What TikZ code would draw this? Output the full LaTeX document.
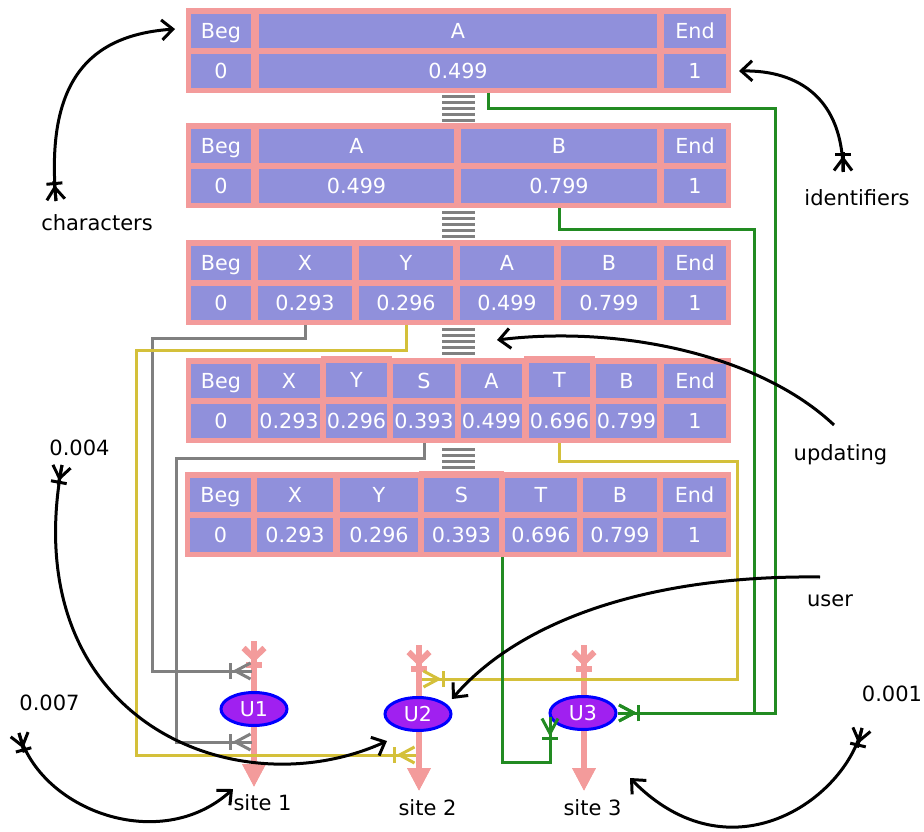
\documentclass[tikz,border=0pt]{standalone}
\usepackage{fontspec}
\setmainfont{DejaVu Sans}
\usetikzlibrary{arrows.meta,shapes.geometric,calc}
\definecolor{pinkc}{RGB}{243,155,155}
\definecolor{cellc}{RGB}{144,144,219}
\definecolor{ylw}{RGB}{212,192,58}
\definecolor{grn}{RGB}{34,139,34}
\definecolor{gry}{RGB}{128,128,128}
\definecolor{upurple}{RGB}{160,32,240}
\newcommand\tcol[7]{%
  \node[colbox, minimum width={#3-#2+10}, minimum height={85-(#7)}] (#1) at ({(#2+#3)/2},{#4+42.5+(#7)/2}) {};
  \node[cellbox, minimum width={#3-#2}] (#1a) at ({(#2+#3)/2},{#4+23+(#7)/2}) {#5};
  \node[cellbox, minimum width={#3-#2}] (#1b) at ({(#2+#3)/2},{#4+63}) {#6};
}
\tikzset{
  crow/.tip={Bar[width=16pt] Straight Barb[reversed,length=15pt,width=16pt]},
  crowb/.tip={Bar[width=16pt] Straight Barb[reversed,length=12pt,width=18pt]},
  crowp/.tip={Bar[width=16pt] Straight Barb[reversed,length=10pt,width=21pt,sep=4pt]},
  headb/.tip={Straight Barb[length=11pt,width=20pt]},
  pinktri/.tip={Triangle[length=23pt,width=22pt]},
}
\begin{document}
\begin{tikzpicture}[x=1pt,y=-1pt,
  colbox/.style={rectangle, fill=pinkc, inner sep=0pt, outer sep=0pt},
  cellbox/.style={rectangle, fill=cellc, minimum height=34pt, inner sep=0pt, outer sep=0pt,
    text=white, font=\fontsize{20.7}{24}\selectfont, text height=15.1pt, text depth=0pt},
  stripes/.style={draw=gry, line width=33pt, dash pattern=on 3pt off 3pt},
  sitearrow/.style={draw=pinkc, line width=6pt, {crowp}-{pinktri}, postaction={draw, -{pinktri}}},
  unode/.style={ellipse, fill=upurple, draw=blue, line width=3pt, minimum width=66pt,
    minimum height=33pt, inner sep=0pt, text=white, font=\fontsize{20.5}{24}\selectfont},
  conn/.style={line width=3pt, -{crow}, postaction={draw, -}},
  gconn/.style={conn, draw=gry},
  yconn/.style={conn, draw=ylw},
  gnconn/.style={conn, draw=grn},
  bcurve/.style={draw=black, line width=3pt},
  tailb/.style={draw=black, line width=3pt, {crowb}-, postaction={draw, -}},
  lbl/.style={font=\fontsize{21}{25}\selectfont, inner sep=0pt, anchor=base},
]
\useasboundingbox (0,0) rectangle (924,832);

% table 1
\tcol{t1beg}{191}{251}{8}{Beg}{0}{0}
\tcol{t1A}{259}{657}{8}{A}{0.499}{0}
\tcol{t1end}{664}{726}{8}{End}{1}{0}
% table 2
\tcol{t2beg}{191}{251}{123}{Beg}{0}{0}
\tcol{t2A}{259}{454}{123}{A}{0.499}{0}
\tcol{t2B}{461}{657}{123}{B}{0.799}{0}
\tcol{t2end}{664}{726}{123}{End}{1}{0}
% table 3
\tcol{t3beg}{191}{251}{240}{Beg}{0}{0}
\tcol{t3X}{258}{352}{240}{X}{0.293}{0}
\tcol{t3Y}{359}{453}{240}{Y}{0.296}{0}
\tcol{t3A}{460}{554}{240}{A}{0.499}{0}
\tcol{t3B}{561}{657}{240}{B}{0.799}{0}
\tcol{t3end}{664}{726}{240}{End}{1}{0}
% table 4
\tcol{t4beg}{191}{251}{358}{Beg}{0}{0}
\tcol{t4X}{258}{320}{358}{X}{0.293}{0}
\tcol{t4Y}{326}{387}{358}{Y}{0.296}{-2}
\tcol{t4S}{393}{455}{358}{S}{0.393}{0}
\tcol{t4A}{461}{522}{358}{A}{0.499}{0}
\tcol{t4T}{529}{590}{358}{T}{0.696}{-2}
\tcol{t4B}{596}{657}{358}{B}{0.799}{0}
\tcol{t4end}{664}{726}{358}{End}{1}{0}
% table 5
\tcol{t5beg}{190}{251}{472}{Beg}{0}{0}
\tcol{t5X}{257}{333}{472}{X}{0.293}{0}
\tcol{t5Y}{340}{418}{472}{Y}{0.296}{0}
\tcol{t5S}{424}{499}{472}{S}{0.393}{-1}
\tcol{t5T}{505}{577}{472}{T}{0.696}{0}
\tcol{t5B}{583}{657}{472}{B}{0.799}{0}
\tcol{t5end}{663}{726}{472}{End}{1}{0}

% stripes between tables
\coordinate (sa1) at (458,95);  \coordinate (sb1) at (458,122);
\coordinate (sa2) at (458,211); \coordinate (sb2) at (458,238);
\coordinate (sa3) at (458,328); \coordinate (sb3) at (458,355);
\coordinate (sa4) at (458,448); \coordinate (sb4) at (458,469);
\draw[stripes] (sa1) -- (sb1);
\draw[stripes] (sa2) -- (sb2);
\draw[stripes] (sa3) -- (sb3);
\draw[stripes] (sa4) -- (sb4);

% sites
\coordinate (s1t) at (254,641); \coordinate (s1b) at (254,787);
\coordinate (s2t) at (419,645); \coordinate (s2b) at (419,791);
\coordinate (s3t) at (584,645); \coordinate (s3b) at (584,791);
\draw[sitearrow] (s1t) -- (s1b);
\draw[sitearrow] (s2t) -- (s2b);
\draw[sitearrow] (s3t) -- (s3b);

\node[unode] (U1) at (254,709) {U1};
\node[unode] (U2) at (418,714) {U2};
\node[unode] (U3) at (583,713) {U3};

% connectors
\coordinate (g1e) at (252,671);
\coordinate (g2e) at (252,742);
\coordinate (y1e) at (416,755);
\coordinate (y2e) at (422,679);
\draw[gconn] (t3X.south) |- (152,338) |- (g1e);
\draw[gconn] (t4S.south) |- (176,458) |- (g2e);
\draw[yconn] (t3Y.south) |- (136,350) |- (y1e);
\draw[yconn] (t4T.south) |- (737,461) |- (y2e);
\draw[gnconn] ([xshift=30pt]t1A.south) |- (775,109) |- (U3.east);
\draw[gnconn] (t2B.south) |- (754,229) |- (U3.east);
\draw[gnconn] ([xshift=-39pt]t5T.south) |- ([xshift=1.5pt,yshift=-49pt]U3.west) -- ([xshift=1.5pt,yshift=-4pt]U3.west);

% labels
\node[lbl] (lchar) at (97,230) {characters};
\node[lbl] (lident) at (857,205) {identifiers};
\node[lbl] (lupd) at (840.5,460) {updating};
\node[lbl] (luser) at (830,606) {user};
\node[lbl] (l004) at (79.5,455) {0.004};
\node[lbl] (l007) at (49.5,710) {0.007};
\node[lbl] (l001) at (892,701) {0.001};
\node[lbl] (ls1) at (262.5,810) {site 1};
\node[lbl] (ls2) at (427.5,815) {site 2};
\node[lbl] (ls3) at (592.5,815) {site 3};

% black curves
\coordinate (c1s) at (56,201);  \coordinate (c1e) at (175,29);
\coordinate (c2s) at (843,172); \coordinate (c2e) at (739,71);
\coordinate (c3s) at (834,425); \coordinate (c3e) at (497,340);
\coordinate (c4s) at (820,577); \coordinate (c4e) at (452,699);
\coordinate (c5s) at (62,465);  \coordinate (c5e) at (387,741);
\coordinate (c6s) at (19,733);  \coordinate (c6e) at (233,789);
\coordinate (c7s) at (862,728); \coordinate (c7e) at (630,778);
\draw[bcurve, -{headb}] (c1s) .. controls (45,80) and (90,35) .. (c1e);
\draw[tailb] (c1s) -- ($(c1s)!20pt!(45,80)$);
\draw[bcurve, -{headb}] (c2s) .. controls (843,100) and (800,70) .. (c2e);
\draw[tailb] (c2s) -- ($(c2s)!20pt!(843,100)$);
\draw[bcurve, -{headb}] (c3s) .. controls (760,355) and (620,325) .. (c3e);
\draw[bcurve, -{headb}] (c4s) .. controls (650,575) and (520,620) .. (c4e);
\draw[bcurve, -{headb}] (c5s) .. controls (15,720) and (235,810) .. (c5e);
\draw[tailb] (c5s) -- ($(c5s)!20pt!(15,720)$);
\draw[bcurve, -{headb}] (c6s) .. controls (40,810) and (160,855) .. (c6e);
\draw[tailb] (c6s) -- ($(c6s)!20pt!(40,810)$);
\draw[bcurve, -{headb}] (c7s) .. controls (845,800) and (730,880) .. (c7e);
\draw[tailb] (c7s) -- ($(c7s)!20pt!(845,800)$);
\end{tikzpicture}
\end{document}
